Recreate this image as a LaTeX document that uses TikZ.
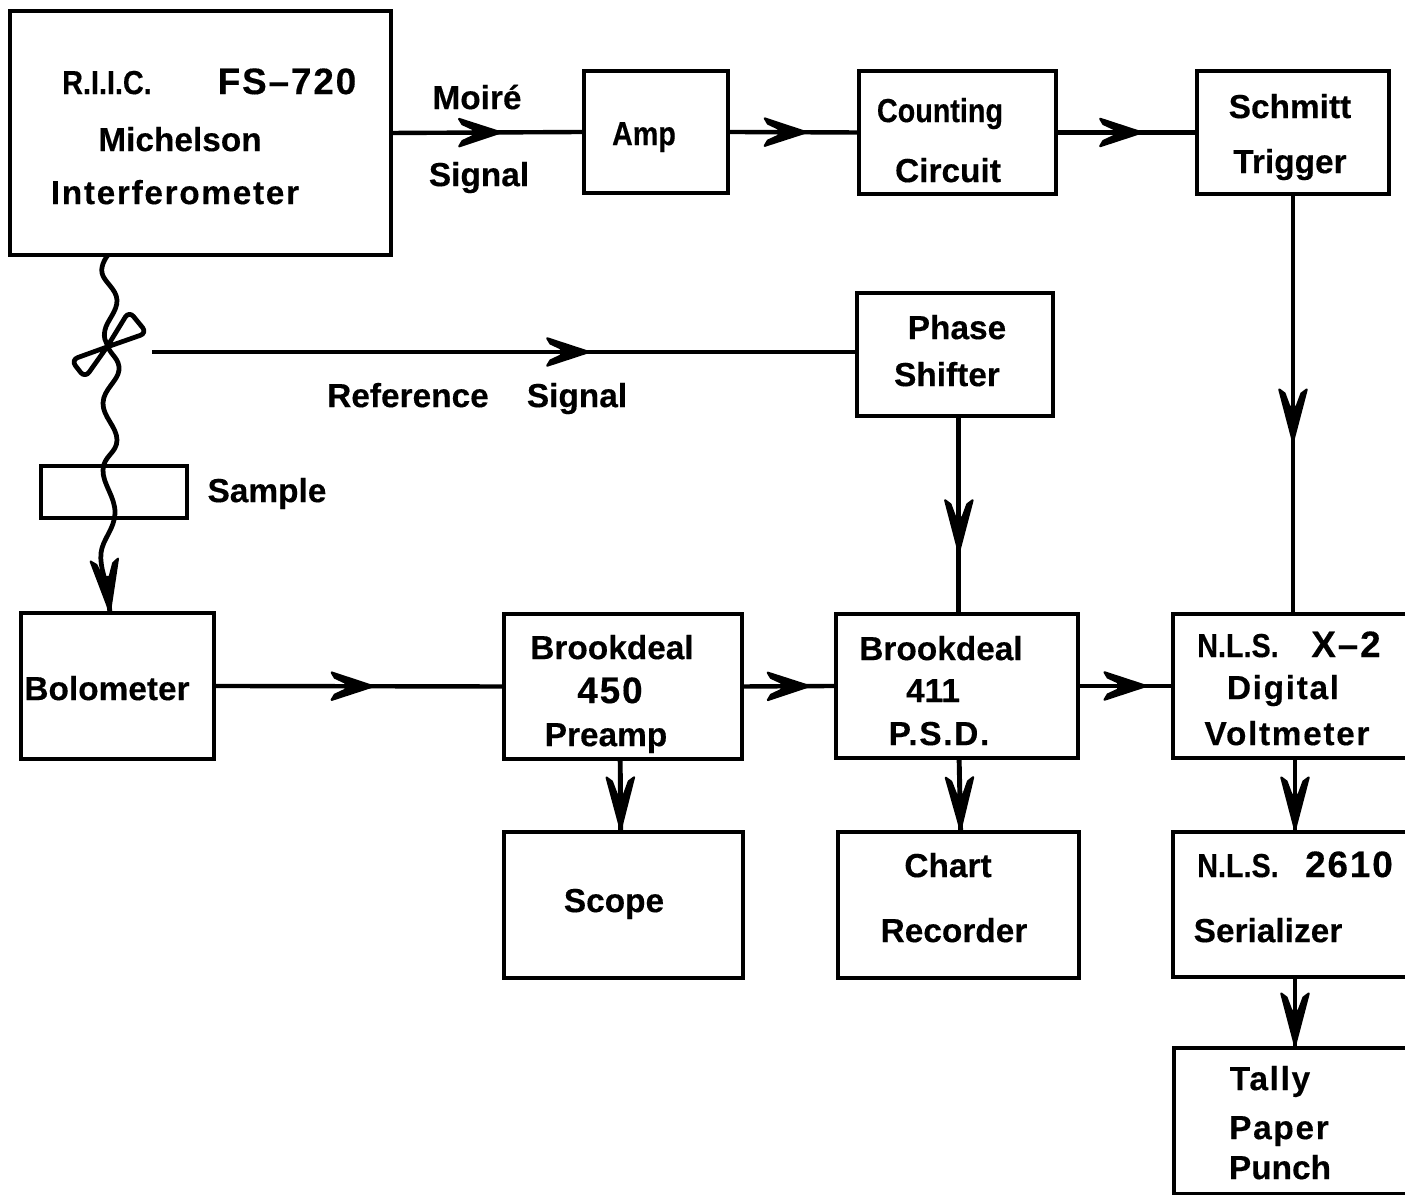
\documentclass[tikz,border=0pt]{standalone}
\usepackage{fontspec}
\setmainfont[BoldFeatures={FakeBold=0.3}]{Liberation Sans}
\usetikzlibrary{decorations.markings}
\newcommand{\barbtip}[1]{\filldraw[line width=.6pt,line join=round,xscale=#1]
  (0,0) -- (-11.9pt,3.9pt) -- (-11pt,2.4pt) -- (-8pt,1pt) -- (-8pt,-1pt)
  -- (-11pt,-2.4pt) -- (-11.9pt,-3.9pt) -- cycle;}

\begin{document}
\begin{tikzpicture}[
    x=0.01cm,y=-0.01cm,
    box/.style 2 args={draw,line width=1.25pt,inner sep=0pt,outer sep=0pt,
      minimum width=#1 cm,minimum height=#2 cm},
    lbl/.style={font=\fontsize{9.5}{12}\selectfont\bfseries,inner sep=0pt,
      text height=6.9pt,text depth=0pt},
    small/.style={lbl,font=\fontsize{9.5}{12}\selectfont\bfseries\addfontfeature{FakeStretch=0.86}},
    wide/.style={lbl,font=\fontsize{9.5}{12}\selectfont\bfseries\addfontfeature{LetterSpace=5}},
    digits/.style={lbl,font=\fontsize{10.5}{12}\selectfont\bfseries\addfontfeature{LetterSpace=5}},
    flow/.style={line width=1.25pt,
      decoration={markings,mark=at position #1 with {\barbtip{1}}},
      postaction={decorate}},
    drop/.style={line width=1.4pt,
      decoration={markings,mark=at position #1 with {\barbtip{1.25}}},
      postaction={decorate}},
    beam/.style={line width=1.35pt,line join=round},
    wing/.style={line width=1.35pt,line join=round}
  ]
  \path[use as bounding box] (0,0) rectangle (1405,1195);

  % boxes
  \node[box={3.81}{2.44}] (michelson) at (200.5,133) {};
  \node[box={1.44}{1.22}] (amp) at (656,132) {};
  \node[box={1.97}{1.23}] (counter) at (957.5,132.5) {};
  \node[box={1.92}{1.23}] (schmitt) at (1293,132.5) {};
  \node[box={1.96}{1.23}] (shifter) at (955,354.5) {};
  \node[box={1.46}{0.52}] (sample) at (114,492) {};
  \node[box={1.93}{1.46}] (bolometer) at (117.5,686) {};
  \node[box={2.38}{1.45}] (preamp) at (623,686.5) {};
  \node[box={2.42}{1.44}] (psd) at (957,686) {};
  \node[box={2.60}{1.44}] (voltmeter) at (1303,686) {};
  \node[box={2.39}{1.46}] (scope) at (623.5,905) {};
  \node[box={2.41}{1.46}] (recorder) at (958.5,905) {};
  \node[box={2.60}{1.45}] (serializer) at (1303,904.5) {};
  \node[box={2.60}{1.46}] (punch) at (1304,1121) {};

  % labels
  \node[small] (riic) at (107,82) {R.I.I.C.};
  \node[digits] (fs) at (287,82) {FS--720};
  \node[lbl] (mich) at (180,139) {Michelson};
  \node[wide] (inter) at (175,192) {Interferometer};
  \node[lbl] (moire) at (477,97) {Moiré};
  \node[lbl] (moiresig) at (479,174) {Signal};
  \node[small] (amptxt) at (644,133) {Amp};
  \node[small] (count) at (940,110) {Counting};
  \node[lbl] (circ) at (948,170) {Circuit};
  \node[lbl] (schm) at (1290,106) {Schmitt};
  \node[lbl] (trig) at (1290,161) {Trigger};
  \node[lbl] (phase) at (957,327) {Phase};
  \node[lbl] (shift) at (947,374) {Shifter};
  \node[lbl] (refer) at (408,395) {Reference};
  \node[lbl] (refsig) at (577,395) {Signal};
  \node[lbl] (samp) at (267,490) {Sample};
  \node[lbl] (bolo) at (107,688) {Bolometer};
  \node[lbl] (brook) at (612,647) {Brookdeal};
  \node[digits] (fifty) at (610,691) {450};
  \node[lbl] (pre) at (606,734) {Preamp};
  \node[lbl] (brookb) at (941,648) {Brookdeal};
  \node[lbl] (eleven) at (933,690) {411};
  \node[wide] (psdtxt) at (939,733) {P.S.D.};
  \node[small] (nls) at (1238,645) {N.L.S.};
  \node[digits] (xtwo) at (1346,645) {X--2};
  \node[wide] (digi) at (1283,687) {Digital};
  \node[wide] (volt) at (1287,733) {Voltmeter};
  \node[lbl] (scp) at (614,900) {Scope};
  \node[lbl] (chart) at (948,865) {Chart};
  \node[lbl] (rec) at (954,930) {Recorder};
  \node[small] (nlsb) at (1238,865) {N.L.S.};
  \node[digits] (sixten) at (1349,865) {2610};
  \node[lbl] (seri) at (1268,930) {Serializer};
  \node[wide] (tally) at (1270,1078) {Tally};
  \node[wide] (paper) at (1279,1127) {Paper};
  \node[lbl] (pnch) at (1280,1167) {Punch};

  % signal path
  \draw[flow=.57] (michelson.east) -- (amp.west);
  \draw[flow=.6] (amp.east) -- (counter.west);
  \draw[flow=.61] (counter.east) -- (schmitt.west);
  \draw[drop=.59] (schmitt.south) -- (schmitt.south |- voltmeter.north);
  \coordinate (refstart) at (152,352);
  \draw[flow=.62] (refstart) -- (refstart -| shifter.west);
  \draw[drop=.69] ([xshift=1.1pt]shifter.south) -- ([xshift=1.1pt]shifter.south |- psd.north);
  \draw[flow=.55] (bolometer.east) -- (preamp.west);
  \draw[flow=.72] (preamp.east) -- (psd.west);
  \draw[flow=.72] (psd.east) -- (voltmeter.west);
  \draw[drop=.97] ([xshift=-.8pt]preamp.south) -- ([xshift=-.8pt]scope.north);
  \draw[drop=.97] ([xshift=.6pt]psd.south) -- ([xshift=.6pt]recorder.north);
  \coordinate (rail) at (1295,0);
  \draw[drop=.97] (rail |- voltmeter.south) -- (rail |- serializer.north);
  \draw[drop=.97] (rail |- serializer.south) -- (rail |- punch.north);

  % radiation and chopper
  \coordinate (wavetop) at (108,255);
  \coordinate (wavelow) at (107,585);
  \draw[beam] plot[smooth,tension=.7] coordinates {(wavetop) (102,273) (117,300)
    (105,330) (108,347) (119,370) (103,403) (117,440) (103,470) (115,513)
    (101,553) (wavelow)};
  \draw[drop=.97] (wavelow) -- (bolometer.north -| 110,0);
  \draw[wing] (107,347) [rounded corners=2pt] -- (129,311) -- (147,333) [sharp corners] -- cycle;
  \draw[wing] (107,347) [rounded corners=2pt] -- (71,360) -- (85,378) [sharp corners] -- cycle;
\end{tikzpicture}
\end{document}
